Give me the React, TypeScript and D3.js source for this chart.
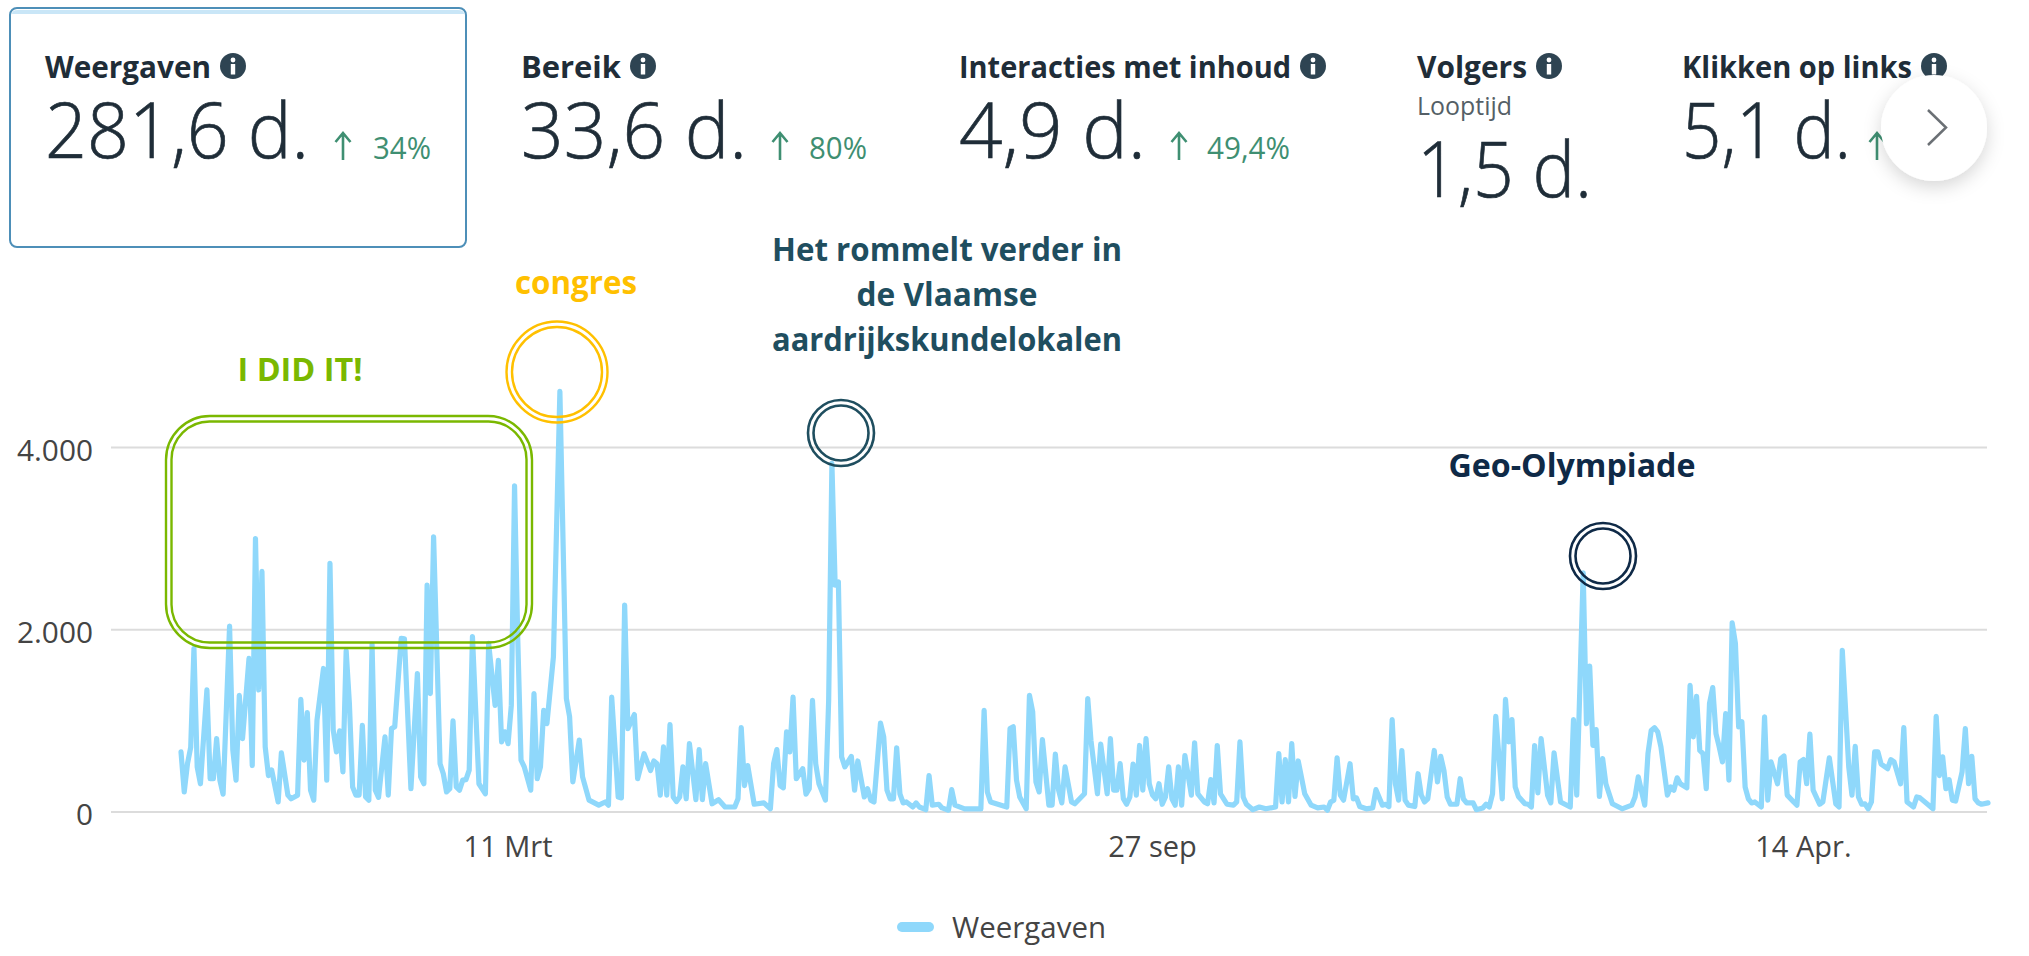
import React from "react";
import * as d3 from "d3";

// Day offsets (from the first day shown) and daily views at the visible peaks and troughs
const daysA = [0,1,2,3,4,5,6,8,9,10,11,12,13,15,16,17,18,19,21,22,23,24,25,26,27,28,30,31,33,34,36,37,38,39,40,41,42,44,45,46,47,48,49,50,51,52,53,54,55,56,57,58,59,60,61,63,64,65,66,68,69,71,73,74,75,76,77,78,80,81,82,83,84,85,86,87,88,89,90,92,94,95,97,98,99,100,101,102,103,104,105,106,108,109,110,111,112,113,115,117,119,120,121,123,124,126,129];
const viewsA = [660,220,530,710,1795,495,310,1340,365,365,805,350,195,2040,680,350,1280,805,1685,510,3000,1340,2640,715,400,460,110,650,185,145,185,1235,570,1090,240,130,1010,1575,350,2730,900,660,890,440,1770,1190,275,185,185,950,165,130,1840,240,160,825,185,915,935,1905,1900,255,1520,385,310,2490,1300,3020,530,420,220,255,1000,275,240,350,355,460,1925,310,200,1850,1170,1665,770,880,750,1170,3580,1885,570,495,240,1300,365,495,1115,970,1700,4615,1245,1045,330,790,385,130,75];
const daysB = [131,132,133,135,136,137,138,140,141,143,145,146,147,148,149,150,151,152,153,154,155,156,157,159,160,161,162,164,166,168,171,172,173,174,175,177,180,182,183,184,185,186,187,188,189,190,192,193,194,195,196,197,199,200,201,202,203,204,205,207,208,209,211,212,213,214,216,217,218,219,220,221,222,223,224,226,227,228,230,231,232,234,235,237,238,239,242,247,248,249,250,255,256,257,258,259,261,262,263,264,265,266,268];
const viewsB = [110,75,1260,165,155,2270,915,1070,365,640,455,560,530,185,715,185,960,165,115,165,495,145,750,135,685,135,530,90,135,55,55,145,925,290,510,85,100,35,530,685,290,265,880,660,1260,365,475,195,255,1225,530,310,130,1225,3825,2490,2525,605,495,610,240,560,165,255,130,110,975,825,240,145,145,705,200,100,110,55,100,55,25,400,75,85,45,20,245,75,35,35,1115,220,110,55,915,935,350,165,35,1280,1100,330,220,795,75];
const daysC = [269,270,271,272,273,275,276,279,280,281,283,284,286,287,288,289,290,291,292,293,294,295,296,297,298,299,300,301,302,303,304,305,306,307,308,309,310,312,313,314,316,317,318,319,320,321,323,325,326,327,328,329,331,333,335,338,339,340,341,342,343,344,345,347,349,351,353,354,355,356,357,358,359,361,362,363,364,366,368,369,371,372,373,374,375,376,377,378,379,381,382,383,384,385,387,388,389,390,391,392,394,395,396,397,399,400,402,403,404,405,406,408,409,410,411,412,413,415,416];
const viewsC = [75,635,240,100,495,110,90,200,1245,785,200,745,200,805,240,240,530,145,85,165,525,185,730,240,805,310,185,145,310,85,165,495,145,75,495,75,620,185,760,200,110,90,355,100,730,200,85,75,110,770,165,85,25,55,35,55,640,110,575,110,750,170,560,200,75,45,55,20,110,130,595,185,130,530,145,155,60,35,45,245,75,85,60,1015,310,130,675,130,75,60,420,185,110,145,675,330,610,455,165,85,85,365,145,100,100,25,45,85,55,200,1050,145,1235,770,1015,275,170,90,85];
const daysD = [417,418,419,420,422,423,424,426,429,430,431,433,434,435,436,437,438,439,440,442,445,448,449,450,452,453,454,455,456,457,459,460,461,462,463,465,466,467,468,469,470,471,472,473,474,475,476,477,478,479,480,481,482,483,484,485,486,488,489,490,491,493,494,495,496,498,499,500,501,502,503,504,506,507,509,511,512,513,515,516,517,518,519,520,521,522,523,524,525,527,528,529,531,532,533,535,536,537,541,542,543,544,545,546,547,548,550,551,552,553,554,555,556,558];
const viewsD = [55,730,210,805,185,100,650,110,55,1015,185,2625,970,1600,730,905,170,585,310,90,35,75,165,385,75,640,895,925,880,715,185,275,240,375,310,265,1390,825,1270,675,640,255,1190,1365,860,715,550,1080,350,2075,1850,935,990,275,145,100,110,55,1045,130,550,310,585,615,185,110,75,550,575,310,855,240,85,110,595,90,55,1775,495,185,720,165,85,90,35,110,660,660,525,475,575,550,310,925,110,55,165,155,35,1050,400,605,255,355,130,120,440,915,310,610,145,100,85,100];

const allDays = [...daysA, ...daysB, ...daysC, ...daysD];
const allViews = [...viewsA, ...viewsB, ...viewsC, ...viewsD];
const series = allDays.map((d, i) => [d, allViews[i]] as [number, number]);

const yTicks = [0, 2000, 4000];
const xTickDays = [101, 300, 501];
const xTickLabels = ["11 Mrt", "27 sep", "14 Apr."];
const seriesName = "Weergaven";

const cardTitles = ["Weergaven", "Bereik", "Interacties met inhoud", "Volgers", "Klikken op links"];
const cardValues = ["281,6 d.", "33,6 d.", "4,9 d.", "1,5 d.", "5,1 d."];
const cardDeltas = ["34%", "80%", "49,4%", "", ""];

const FONT = "'Open Sans', sans-serif";
const INK = "#1f2d38";
const GREEN = "#3f8f72";
const LIME = "#7ab800";
const AMBER = "#ffc000";
const TEAL = "#1f4e5f";
const NAVY = "#0f2a47";
const LINE = "#8fd8fb";

const x = d3.scaleLinear().domain([0, 558]).range([181, 1988]);
const y = d3.scaleLinear().domain([0, 4000]).range([812, 447.5]);
const path = d3.line<[number, number]>().x(d => x(d[0])).y(d => y(d[1])).curve(d3.curveLinear);

const cardX = [45, 521, 959, 1417, 1682];
const titleW = [166, 100, 332, 110, 230];
const valueW = [264, 226, 187, 175, 169];
const deltaX = [373, 809, 1207, 0, 0];
const deltaW = [58, 58, 83, 0, 0];
const arrowX = [343, 780, 1179, 0, 1877];
const valueBase = [158, 158, 158, 197, 158];

function Info({ cx, cy }: { cx: number; cy: number }) {
  return (
    <g>
      <circle cx={cx} cy={cy} r={13} fill="#2e4452" />
      <circle cx={cx} cy={cy - 6} r={2.4} fill="#fff" />
      <rect x={cx - 2.2} y={cy - 2} width={4.4} height={10.5} fill="#fff" />
    </g>
  );
}

function Arrow({ cx, base }: { cx: number; base: number }) {
  return (
    <path d={`M${cx} ${base}V${base - 27}M${cx - 7.5} ${base - 18}L${cx} ${base - 27}L${cx + 7.5} ${base - 18}`}
      fill="none" stroke={GREEN} strokeWidth={2.6} />
  );
}

function Label(p: { x: number; y: number; w?: number; size: number; fill: string; weight?: number; anchor?: string; outline?: number; children: string }) {
  return (
    <text x={p.x} y={p.y} fontFamily={FONT} fontSize={p.size} fill={p.fill} fontWeight={p.weight ?? 400}
      stroke={p.outline ? p.fill : undefined} strokeWidth={p.outline}
      textAnchor={p.anchor ?? "start"} textLength={p.w} lengthAdjust={p.w ? "spacingAndGlyphs" : undefined}>
      {p.children}
    </text>
  );
}

export default function App() {
  return (
    <svg width={2029} height={956} viewBox="0 0 2029 956"
      style={{ position: "absolute", left: 0, top: 0, display: "block", background: "#fff" }}>
      <defs>
        <filter id="sh" x="-40%" y="-40%" width="180%" height="190%">
          <feDropShadow dx="0" dy="6" stdDeviation="9" floodColor="#000" floodOpacity="0.16" />
        </filter>
      </defs>

      {/* selected card */}
      <rect x={10} y={8} width={456} height={239} rx={7} fill="#fff" stroke="#4d8fb8" strokeWidth={2} />
      <path d="M12 14 Q12 10 18 10 H458 Q464 10 464 14Z" fill="#c9e6f7" />

      {cardTitles.map((t, i) => (
        <g key={t}>
          <Label x={cardX[i]} y={78} w={titleW[i]} size={30} fill={INK} weight={700}>{t}</Label>
          <Info cx={cardX[i] + titleW[i] + 22} cy={66} />
          <Label x={cardX[i]} y={valueBase[i]} w={valueW[i]} size={78} fill={INK} weight={300} outline={0.7}>{cardValues[i]}</Label>
          {cardDeltas[i] && <Label x={deltaX[i]} y={159} w={deltaW[i]} size={31} fill={GREEN}>{cardDeltas[i]}</Label>}
          {arrowX[i] > 0 && <Arrow cx={arrowX[i]} base={160} />}
        </g>
      ))}
      <Label x={1417} y={115} w={95} size={26} fill="#555f66">Looptijd</Label>

      {/* scroll button */}
      <circle cx={1934} cy={128} r={53} fill="#fff" filter="url(#sh)" />
      <path d="M1928 110 L1946 127.500 L1928 145" fill="none" stroke="#6b7075" strokeWidth={2.5} />

      {/* grid */}
      {yTicks.map(t => (
        <g key={t}>
          <line x1={111} x2={1987} y1={y(t)} y2={y(t)} stroke="#dcdcdc" strokeWidth={2.2} />
          <Label x={93} y={y(t) + 13} w={t ? 76 : 17} size={29} fill="#444" anchor="end">{d3.format(",")(t).replace(/,/g, ".")}</Label>
        </g>
      ))}
      {xTickDays.map((d, i) => (
        <Label key={d} x={x(d)} y={857} size={29} fill="#444" anchor="middle">{xTickLabels[i]}</Label>
      ))}

      {/* series */}
      <path d={path(series) ?? ""} fill="none" stroke={LINE} strokeWidth={5.2} strokeLinejoin="round" strokeLinecap="round" />

      {/* legend */}
      <rect x={897} y={922} width={37} height={10} rx={5} fill={LINE} />
      <Label x={952} y={938} w={154} size={30} fill="#444">{seriesName}</Label>

      {/* annotations */}
      <Label x={300} y={381} w={125} size={32} fill={LIME} weight={700} anchor="middle">I DID IT!</Label>
      <rect x={166} y={416} width={366} height={232} rx={44} fill="none" stroke={LIME} strokeWidth={2.4} />
      <rect x={171.500} y={421.500} width={355} height={221} rx={38} fill="none" stroke={LIME} strokeWidth={2.4} />

      <Label x={576} y={294} w={122} size={32} fill={AMBER} weight={700} anchor="middle">congres</Label>
      <circle cx={557} cy={372} r={50.500} fill="none" stroke={AMBER} strokeWidth={2.4} />
      <circle cx={557} cy={372} r={45} fill="none" stroke={AMBER} strokeWidth={2.4} />

      <Label x={947} y={261} w={350} size={32} fill={TEAL} weight={700} anchor="middle">Het rommelt verder in</Label>
      <Label x={947} y={306} w={181} size={32} fill={TEAL} weight={700} anchor="middle">de Vlaamse</Label>
      <Label x={947} y={351} w={350} size={32} fill={TEAL} weight={700} anchor="middle">aardrijkskundelokalen</Label>
      <circle cx={841} cy={433} r={33} fill="none" stroke={TEAL} strokeWidth={2.6} />
      <circle cx={841} cy={433} r={27.500} fill="none" stroke={TEAL} strokeWidth={2.6} />

      <Label x={1572} y={477} w={247} size={32} fill={NAVY} weight={700} anchor="middle">Geo-Olympiade</Label>
      <circle cx={1603} cy={556} r={33} fill="none" stroke={NAVY} strokeWidth={2.6} />
      <circle cx={1603} cy={556} r={27.500} fill="none" stroke={NAVY} strokeWidth={2.6} />
    </svg>
  );
}
